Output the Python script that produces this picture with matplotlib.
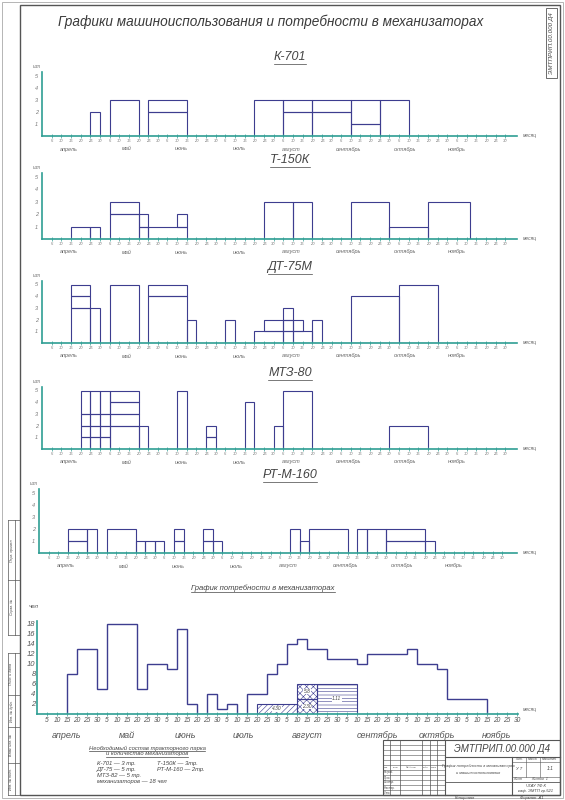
#!/usr/bin/env python3
"""
Графики машиноиспользования и потребности в механизаторах
"""
import matplotlib
matplotlib.use('Agg')
import matplotlib.pyplot as plt
from matplotlib.patches import Rectangle
from matplotlib import transforms

plt.rcParams['font.family'] = ['Liberation Sans', 'DejaVu Sans']
plt.rcParams['font.style'] = 'italic'
plt.rcParams['hatch.linewidth'] = 0.4

# ---- данные ----
months = ['апрель', 'май', 'июнь', 'июль', 'август', 'сентябрь', 'октябрь', 'ноябрь']
day_ticks = list(range(5, 245, 5))
day_labels = [str((d - 1) % 30 + 1) for d in day_ticks]

# блоки: (начало, конец, уровень, кол-во тракторов), дни от 1 апреля
k701_blocks = [(25, 30, 0, 2), (35, 50, 0, 3), (55, 75, 0, 2), (55, 75, 2, 1),
               (110, 125, 0, 3), (125, 140, 0, 2), (125, 140, 2, 1),
               (140, 160, 0, 2), (140, 160, 2, 1), (160, 175, 0, 1),
               (160, 175, 1, 2), (175, 190, 0, 3)]
t150_blocks = [(15, 25, 0, 1), (25, 30, 0, 1), (35, 50, 0, 2), (35, 50, 2, 1),
               (50, 55, 0, 1), (50, 55, 1, 1), (55, 75, 0, 1), (70, 75, 1, 1),
               (115, 130, 0, 3), (130, 140, 0, 3), (160, 180, 0, 3),
               (180, 200, 0, 1), (200, 222, 0, 3)]
dt75_blocks = [(15, 25, 0, 3), (25, 30, 0, 3), (15, 25, 3, 1), (15, 25, 4, 1),
               (35, 50, 0, 5), (55, 75, 0, 4), (55, 75, 4, 1), (75, 80, 0, 2),
               (95, 100, 0, 2), (110, 125, 0, 1), (115, 125, 1, 1),
               (125, 130, 0, 1), (125, 130, 1, 1), (125, 130, 2, 1),
               (130, 135, 1, 1), (130, 140, 0, 1), (140, 145, 0, 2),
               (160, 185, 0, 4), (185, 205, 0, 5)]
mtz_blocks = [(20, 25, 0, 1), (20, 25, 1, 1), (20, 25, 2, 1), (20, 25, 3, 2),
              (25, 30, 0, 1), (25, 30, 1, 1), (25, 30, 2, 1), (25, 30, 3, 2),
              (30, 35, 0, 1), (30, 35, 1, 1), (30, 35, 2, 1), (30, 35, 3, 2),
              (35, 50, 0, 2), (35, 50, 2, 1), (35, 50, 3, 1), (35, 50, 4, 1),
              (50, 55, 0, 2), (70, 75, 0, 5), (85, 90, 0, 1), (85, 90, 1, 1),
              (105, 110, 0, 4), (120, 125, 0, 2), (125, 140, 0, 5),
              (180, 200, 0, 2)]
rt_blocks = [(15, 25, 0, 1), (15, 25, 1, 1), (25, 30, 0, 2), (35, 50, 0, 2),
             (50, 55, 0, 1), (55, 60, 0, 1), (60, 65, 0, 1), (70, 75, 0, 1),
             (70, 75, 1, 1), (85, 90, 0, 1), (85, 90, 1, 1), (90, 95, 0, 1),
             (130, 135, 0, 2), (135, 140, 0, 1), (140, 160, 0, 2),
             (165, 170, 0, 2), (170, 180, 0, 2), (180, 200, 0, 1),
             (180, 200, 1, 1), (200, 205, 0, 1)]

# потребность в механизаторах (ступенчатый график)
need_edges = [15, 20, 30, 35, 50, 55, 65, 70, 75, 80, 85, 90, 95, 100, 105,
              115, 120, 125, 130, 135, 145, 160, 165, 185, 190, 200, 205, 225]
need_values = [8, 13, 5, 18, 5, 10, 9, 17, 2, 0, 4, 1, 2, 0, 4,
               8, 10, 14, 15, 13, 11, 10, 12, 13, 10, 9, 3]
# заштрихованные зоны: (начало, конец, низ, высота, штриховка, подпись)
hatch_blocks = [(110, 130, 0, 2, '//////', '4.30'),
                (130, 140, 0, 3, 'xxxxx', '2.30'),
                (130, 140, 3, 3, 'xxxxx', '5.8'),
                (140, 160, 0, 6, '-----', '1.11')]

# ---- оформление ----
W, H = 565, 800
BAR = '#3d3d8f'
AXC = '#2f9e94'
TXT = '#444444'
LINE = '#555555'

fig = plt.figure(figsize=(W / 100, H / 100), dpi=100)
fig.patch.set_facecolor('white')
sheet = fig.add_axes([0, 0, 1, 1])
sheet.set_xlim(0, W)
sheet.set_ylim(H, 0)
sheet.axis('off')


def px_axes(x0, y_top, x1, y_bot):
    a = fig.add_axes([x0 / W, 1 - y_bot / H, (x1 - x0) / W, (y_bot - y_top) / H])
    a.patch.set_alpha(0)
    return a


def underlined(x, y, s, size, **kw):
    t = sheet.text(x, y, s, fontsize=size, color=TXT, ha='center', va='center', **kw)
    fig.canvas.draw()
    bb = t.get_window_extent().transformed(sheet.transData.inverted())
    sheet.plot([bb.x0, bb.x1], [bb.y0 + 0.5, bb.y0 + 0.5], color=TXT, lw=0.5)
    return t


# рамка листа
sheet.add_patch(Rectangle((2, 2), W - 4, H - 4, fill=False, ec='#aaaaaa', lw=0.6))
sheet.add_patch(Rectangle((20, 5), 540, 790, fill=False, ec=LINE, lw=1.0))
sheet.add_patch(Rectangle((546, 8), 11, 70, fill=False, ec=LINE, lw=0.6))
sheet.text(551.5, 43, 'ЭМТПРИП.00.000 Д4', rotation=90, fontsize=4.5, color=TXT,
           ha='center', va='center')

sheet.text(271, 22, 'Графики машиноиспользования и потребности в механизаторах',
           fontsize=9.8, color='#3a3a3a', ha='center', va='center')

# малые графики
charts = [('К-701', k701_blocks, 42, 136, 12.0, 57),
          ('Т-150К', t150_blocks, 42, 239, 12.4, 160),
          ('ДТ-75М', dt75_blocks, 42, 343, 11.7, 267),
          ('МТЗ-80', mtz_blocks, 42, 449, 11.7, 373),
          ('РТ-М-160', rt_blocks, 39, 553, 12.0, 475)]
month_pos = [14, 44, 72, 102, 129, 159, 188, 215]

for name, blocks, x0, base, ppu, ty in charts:
    underlined(290, ty, name, 9)
    top = base - 5.3 * ppu
    ax = px_axes(x0, top, 517, base)
    ax.set_xlim(0, (517 - x0) / 1.93)
    ax.set_ylim(0, 5.3)
    for s, e, b, n in blocks:
        ax.bar(s, n, width=e - s, bottom=b, align='edge', fill=False,
               edgecolor=BAR, linewidth=0.8)
    for sp in ['top', 'right']:
        ax.spines[sp].set_visible(False)
    for sp in ['left', 'bottom']:
        ax.spines[sp].set_color(AXC)
        ax.spines[sp].set_linewidth(1.2)
    ax.set_xticks(day_ticks)
    ax.set_xticklabels(day_labels)
    ax.set_yticks([1, 2, 3, 4, 5])
    ax.tick_params(axis='x', direction='inout', length=3, width=0.5, color=AXC,
                   labelsize=3, labelcolor='#777777', pad=1)
    ax.tick_params(axis='y', length=0, labelsize=4, labelcolor='#777777', pad=3)
    tr = transforms.blended_transform_factory(ax.transData, sheet.transData)
    for m, p in zip(months, month_pos):
        ax.text(p, base + 13, m, transform=tr, fontsize=4, color='#666666',
                ha='center', va='center')
    sheet.text(x0 - 5, top - 4, 'шт', fontsize=3.5, color='#666666', ha='center')
    sheet.text(530, base + 1, 'месяц', fontsize=3.5, color='#666666', ha='center')

# график потребности в механизаторах
underlined(263, 588, 'График потребности в механизаторах', 5.5)
bx0, bbase = 37, 714
axb = px_axes(bx0, bbase - 18.6 * 5, 518, bbase)
axb.set_xlim(0, (518 - bx0) / 2)
axb.set_ylim(0, 18.6)
axb.stairs(need_values, need_edges, baseline=0, color=BAR, linewidth=1.0)
for s, e, b, h, hatch, lab in hatch_blocks:
    axb.bar(s, h, width=e - s, bottom=b, align='edge', facecolor='none',
            edgecolor=BAR, hatch=hatch, linewidth=0.8)
    axb.text((s + e) / 2, b + h / 2, lab, fontsize=3.5, color=TXT,
             ha='center', va='center',
             bbox=dict(facecolor='white', edgecolor='none', pad=0.3))
for sp in ['top', 'right']:
    axb.spines[sp].set_visible(False)
for sp in ['left', 'bottom']:
    axb.spines[sp].set_color(AXC)
    axb.spines[sp].set_linewidth(1.2)
axb.set_xticks(day_ticks)
axb.set_xticklabels(day_labels)
axb.set_yticks(range(2, 19, 2))
axb.tick_params(axis='x', direction='inout', length=3, width=0.5, color=AXC,
                labelsize=4.8, labelcolor='#555555', pad=1)
axb.tick_params(axis='y', length=0, labelsize=5.5, labelcolor='#555555', pad=1)
trb = transforms.blended_transform_factory(axb.transData, sheet.transData)
for m, p in zip(months, [15, 45, 74, 103, 135, 170, 200, 230]):
    axb.text(p, 735, m, transform=trb, fontsize=6.5, color='#555555',
             ha='center', va='center')
sheet.text(34, 608, 'чел', fontsize=4.5, color='#555555', ha='center')
sheet.text(530, 711, 'месяц', fontsize=3.5, color='#666666', ha='center')

# состав парка
underlined(147, 748, 'Необходимый состав тракторного парка', 4.2)
underlined(147, 754, 'и количество механизаторов', 4.2)
notes = [(97, 763, 'К-701 — 3 тр.'), (157, 763, 'Т-150К — 3тр.'),
         (97, 769, 'ДТ-75 — 5 тр.'), (157, 769, 'РТ-М-160 — 2тр.'),
         (97, 775, 'МТЗ-82 — 5 тр.'), (97, 782, 'механизаторов — 18 чел')]
for x, y, s in notes:
    sheet.text(x, y, s, fontsize=4.2, color=TXT, ha='left', va='center')

# боковые графы
for y in [520, 580, 635, 653, 695, 727, 763, 795]:
    sheet.plot([8, 20], [y, y], color=LINE, lw=0.5)
sheet.plot([8, 8], [520, 635], color=LINE, lw=0.5)
sheet.plot([15, 15], [520, 635], color=LINE, lw=0.5)
sheet.plot([8, 8], [653, 795], color=LINE, lw=0.5)
sheet.plot([15, 15], [653, 795], color=LINE, lw=0.5)
side = [(550, 'Перв. примен.'), (607, 'Справ. №'), (674, 'Подп. и дата'),
        (711, 'Инв. № дубл.'), (745, 'Взам. инв. №'), (779, 'Инв. № подл.')]
for y, s in side:
    sheet.text(11.5, y, s, rotation=90, fontsize=2.5, color=TXT,
               ha='center', va='center')

# основная надпись
sheet.add_patch(Rectangle((383, 740), 177, 55, fill=False, ec=LINE, lw=0.8))
for x in [390, 400, 422, 430, 437, 445]:
    sheet.plot([x, x], [740, 795], color=LINE, lw=0.5 if x != 445 else 0.8)
for y in range(745, 795, 5):
    sheet.plot([383, 445], [y, y], color=LINE, lw=0.4)
sheet.plot([445, 560], [757, 757], color=LINE, lw=0.8)
sheet.plot([512, 512], [757, 795], color=LINE, lw=0.8)
sheet.plot([445, 560], [782, 782], color=LINE, lw=0.6)
sheet.plot([512, 560], [762, 762], color=LINE, lw=0.4)
sheet.plot([512, 560], [777, 777], color=LINE, lw=0.4)
for x in [526, 540]:
    sheet.plot([x, x], [757, 777], color=LINE, lw=0.4)
sheet.text(502, 749, 'ЭМТПРИП.00.000 Д4', fontsize=7, color=TXT,
           ha='center', va='center')
sheet.text(478, 766, 'График потребности в механизаторах', fontsize=2.8,
           color=TXT, ha='center', va='center')
sheet.text(478, 773, 'и машиноиспользования', fontsize=2.8,
           color=TXT, ha='center', va='center')
for x, s in [(519, 'Лит.'), (533, 'Масса'), (550, 'Масштаб')]:
    sheet.text(x, 759.5, s, fontsize=2.3, color=TXT, ha='center', va='center')
sheet.text(519, 769, 'У Т', fontsize=3, color=TXT, ha='center', va='center')
sheet.text(550, 769, '1:1', fontsize=3.5, color=TXT, ha='center', va='center')
sheet.text(518, 779.5, 'Лист', fontsize=2.5, color=TXT, ha='center', va='center')
sheet.text(540, 779.5, 'Листов  1', fontsize=2.5, color=TXT, ha='center', va='center')
sheet.text(536, 786, 'ЧГАУ ТФ К', fontsize=3, color=TXT, ha='center', va='center')
sheet.text(536, 791, 'каф. ЭМТП гр.521', fontsize=3, color=TXT,
           ha='center', va='center')
for x, s in [(386.5, 'Изм.'), (395, 'Лист'), (411, '№ докум.'), (426, 'Подп.'),
             (433.5, 'Дата')]:
    sheet.text(x, 767.5, s, fontsize=1.6, color=TXT, ha='center', va='center')
for y, s in [(772.5, 'Разраб.'), (777.5, 'Пров.'), (782.5, 'Т.контр.'),
             (787.5, 'Н.контр.'), (792.5, 'Утв.')]:
    sheet.text(384, y, s, fontsize=2, color=TXT, ha='left', va='center')
sheet.text(465, 798, 'Копировал', fontsize=3, color=TXT, ha='center', va='center')
sheet.text(532, 798, 'Формат  А1', fontsize=3, color=TXT, ha='center', va='center')

fig.savefig('out.png', dpi=100)
plt.close(fig)
